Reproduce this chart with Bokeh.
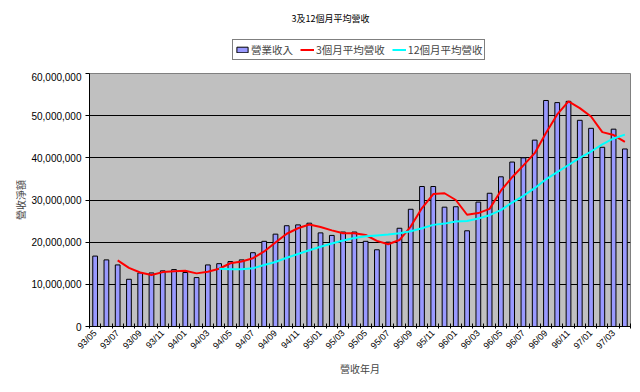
import numpy as np
from math import pi
from bokeh.plotting import figure
from bokeh.layouts import column
from bokeh.models import (ColumnDataSource, Range1d, FixedTicker, NumeralTickFormatter,
                          Legend, LegendItem, Label)
from bokeh.embed import file_html
from bokeh.resources import INLINE

nan = np.nan

months = ["93/05", "93/06", "93/07", "93/08", "93/09", "93/10", "93/11", "93/12",
          "94/01", "94/02", "94/03", "94/04", "94/05", "94/06", "94/07", "94/08",
          "94/09", "94/10", "94/11", "94/12", "95/01", "95/02", "95/03", "95/04",
          "95/05", "95/06", "95/07", "95/08", "95/09", "95/10", "95/11", "95/12",
          "96/01", "96/02", "96/03", "96/04", "96/05", "96/06", "96/07", "96/08",
          "96/09", "96/10", "96/11", "96/12", "97/01", "97/02", "97/03", "97/04"]

revenue = [16700000, 15800000, 14600000, 11200000, 12700000, 12700000, 13200000, 13500000,
           12800000, 11600000, 14600000, 14900000, 15400000, 15800000, 17500000, 20200000,
           21900000, 23900000, 24100000, 24500000, 22200000, 21600000, 22400000, 22400000,
           20200000, 18200000, 20000000, 23300000, 27800000, 33200000, 33200000, 28300000,
           28400000, 22700000, 29500000, 31600000, 35500000, 39000000, 40000000, 44200000,
           53600000, 53100000, 53400000, 48900000, 47000000, 42500000, 46800000, 42100000]

ma3 = [nan, nan, 15700000, 13900000, 12800000, 12200000, 12900000, 13100000,
       13200000, 12600000, 13000000, 13700000, 15000000, 15400000, 16200000, 17800000,
       19900000, 22000000, 23300000, 24200000, 23600000, 22800000, 22100000, 22100000,
       21700000, 20300000, 19500000, 20500000, 23700000, 28100000, 31400000, 31600000,
       30000000, 26500000, 26900000, 27900000, 32200000, 35400000, 38200000, 41100000,
       45900000, 50300000, 53400000, 51800000, 49800000, 46100000, 45400000, 43800000]

ma12 = [nan, nan, nan, nan, nan, nan, nan, nan,
        nan, nan, nan, 13700000, 13600000, 13600000, 13800000, 14600000,
        15300000, 16300000, 17200000, 18100000, 18900000, 19700000, 20400000, 21000000,
        21400000, 21600000, 21800000, 22100000, 22600000, 23300000, 24100000, 24400000,
        24900000, 25000000, 25600000, 26400000, 27600000, 29400000, 31000000, 32800000,
        34900000, 36600000, 38300000, 40000000, 41500000, 43200000, 44600000, 45500000]

y_ticks = [0, 10000000, 20000000, 30000000, 40000000, 50000000, 60000000]

series_names = ["營業收入", "3個月平均營收", "12個月平均營收"]
chart_title = "3及12個月平均營收"

x = list(range(len(months)))
src = ColumnDataSource(dict(x=x, months=months, revenue=revenue, ma3=ma3, ma12=ma12))

CJK = "Noto Sans CJK TC"
LAT = "Liberation Sans"
BAR_FILL = "#9999FF"
RED = "#FF0000"
CYAN = "#00FFFF"

# ---------- header (title + legend) ----------
h = figure(width=640, height=72, output_backend="svg", toolbar_location=None,
           x_range=Range1d(0, 1), y_range=Range1d(0, 1),
           min_border_left=0, min_border_right=0, min_border_top=0, min_border_bottom=0)
h.axis.visible = False
h.grid.visible = False
h.outline_line_color = None
h.background_fill_color = "white"
h.border_fill_color = "white"

# legend-only renderers (no visible marks)
empty = ColumnDataSource(dict(x=[nan], y=[nan]))
hb = h.vbar(x="x", top="y", width=0.5, source=empty, fill_color=BAR_FILL, line_color="black")
h3 = h.line("x", "y", source=empty, line_color=RED, line_width=2)
h12 = h.line("x", "y", source=empty, line_color=CYAN, line_width=2)

legend = Legend(items=[LegendItem(label=series_names[0], renderers=[hb]),
                       LegendItem(label=series_names[1], renderers=[h3]),
                       LegendItem(label=series_names[2], renderers=[h12])],
                location=(143, 12), orientation="horizontal",
                border_line_color="black", border_line_width=1,
                background_fill_color="white", background_fill_alpha=1,
                label_text_font=CJK, label_text_font_size="10.5px",
                glyph_width=14, glyph_height=7, label_standoff=2, spacing=7,
                padding=2, margin=0, label_height=10)
h.add_layout(legend, "center")

title = Label(x=241, y=54, x_units="screen", y_units="screen", text=chart_title,
              text_font=CJK, text_font_size="9px", text_align="center",
              text_baseline="middle", text_color="black")
h.add_layout(title, "center")

# ---------- main chart ----------
p = figure(width=640, height=320, output_backend="svg", toolbar_location=None,
           x_range=Range1d(-0.5, len(months) - 0.5), y_range=Range1d(0, 60000000),
           min_border_left=89, min_border_right=10, min_border_top=1, min_border_bottom=66)

p.background_fill_color = "#C0C0C0"
p.border_fill_color = "white"
p.outline_line_color = "#808080"

r_bar = p.vbar(x="x", top="revenue", bottom=0, width=0.42, source=src,
               fill_color=BAR_FILL, line_color="black", line_width=1)
r3 = p.line("x", "ma3", source=src, line_color=RED, line_width=2)
r12 = p.line("x", "ma12", source=src, line_color=CYAN, line_width=2)

p.xgrid.visible = False
p.ygrid.ticker = FixedTicker(ticks=y_ticks)
p.ygrid.grid_line_color = "black"
p.ygrid.grid_line_width = 1

p.yaxis.ticker = FixedTicker(ticks=y_ticks)
p.yaxis.formatter = NumeralTickFormatter(format="0,0")
p.yaxis.axis_line_color = "black"
p.yaxis.major_tick_in = 0
p.yaxis.major_tick_out = 4
p.yaxis.minor_tick_line_color = None
p.yaxis.major_label_standoff = 4
p.yaxis.major_label_text_font = LAT
p.yaxis.major_label_text_font_size = "10px"
p.yaxis.major_label_text_color = "black"
p.yaxis.axis_label = "營收淨額"
p.yaxis.axis_label_text_font = CJK
p.yaxis.axis_label_text_font_size = "10px"
p.yaxis.axis_label_text_font_style = "normal"
p.yaxis.axis_label_standoff = 0

even = [i for i in x if i % 2 == 0]
p.xaxis.ticker = FixedTicker(ticks=even, minor_ticks=[i - 0.5 for i in range(len(months) + 1)])
p.xaxis.major_label_overrides = {i: months[i] for i in even}
p.xaxis.major_label_orientation = pi / 4
p.xaxis.major_tick_in = 0
p.xaxis.major_tick_out = 0
p.xaxis.minor_tick_in = 3
p.xaxis.minor_tick_out = 2
p.xaxis.minor_tick_line_color = "black"
p.xaxis.axis_line_color = "black"
p.xaxis.major_label_standoff = 3
p.xaxis.major_label_text_font = LAT
p.xaxis.major_label_text_font_size = "9px"
p.xaxis.major_label_text_color = "black"
p.xaxis.axis_label = "營收年月"
p.xaxis.axis_label_text_font = CJK
p.xaxis.axis_label_text_font_size = "10px"
p.xaxis.axis_label_text_font_style = "normal"
p.xaxis.axis_label_standoff = 4

layout = column(h, p, spacing=0)
open("out.html", "w").write(file_html(layout, INLINE))
